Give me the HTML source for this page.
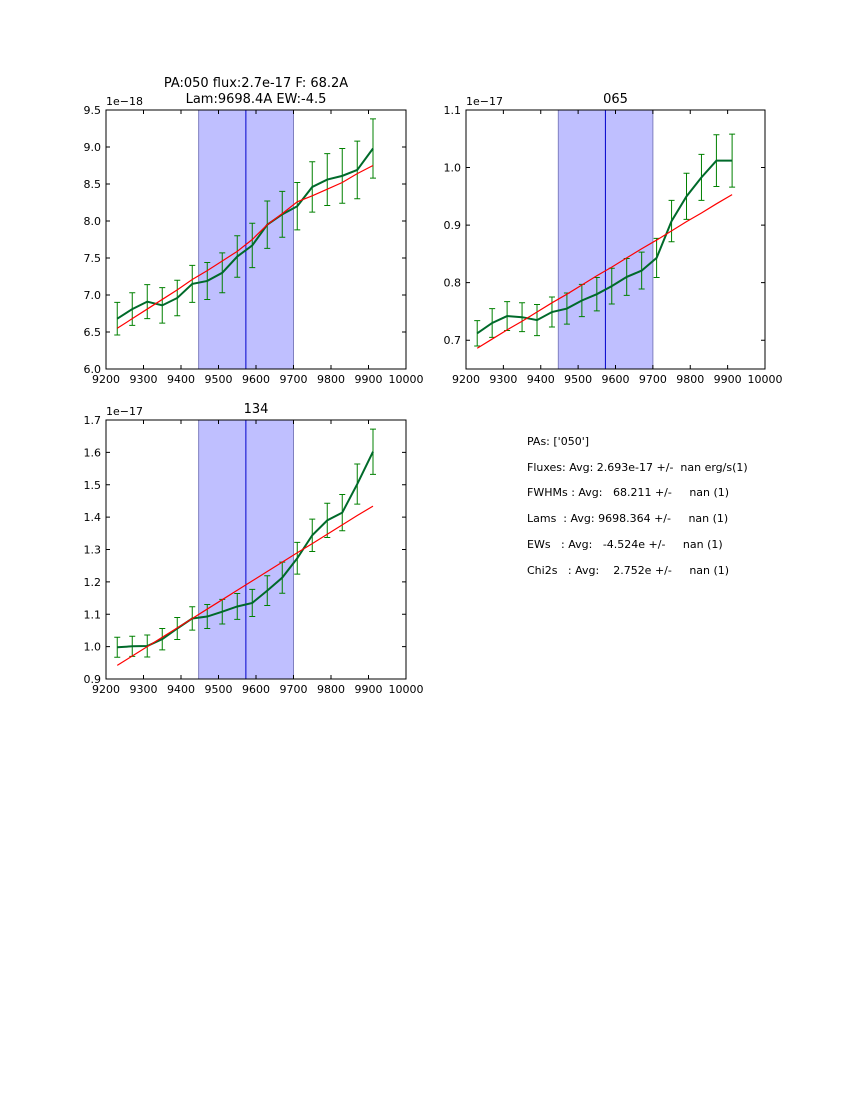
<!DOCTYPE html>
<html><head><meta charset="utf-8"><style>
html,body{margin:0;padding:0;background:#fff;}
body{width:850px;height:1100px;position:relative;overflow:hidden;font-family:"DejaVu Sans","Liberation Sans",sans-serif;}
#info{position:absolute;left:527px;top:429px;font-size:11px;line-height:25.7px;white-space:pre;color:#000;}
</style></head><body>
<svg id="fig" width="850" height="1100" style="position:absolute;left:0;top:0" font-family="DejaVu Sans, Liberation Sans, sans-serif"></svg>
<div id="info">PAs: ['050']
Fluxes: Avg: 2.693e-17 +/-  nan erg/s(1)
FWHMs : Avg:   68.211 +/-     nan (1)
Lams  : Avg: 9698.364 +/-     nan (1)
EWs   : Avg:   -4.524e +/-     nan (1)
Chi2s   : Avg:    2.752e +/-     nan (1)</div>
<script>
const waves = [9230,9270,9310,9350,9390,9430,9470,9510,9550,9590,9630,9670,9710,9750,9790,9830,9870,9912];
const xTicks = [9200,9300,9400,9500,9600,9700,9800,9900,10000];
const bandLo = 9447, bandHi = 9700, lineCenter = 9573;

const flux050 = [6.68,6.81,6.91,6.86,6.96,7.15,7.19,7.30,7.52,7.67,7.95,8.09,8.20,8.46,8.56,8.61,8.69,8.98];
const err050 = [0.22,0.22,0.23,0.24,0.24,0.25,0.25,0.27,0.28,0.30,0.32,0.31,0.32,0.34,0.35,0.37,0.39,0.40];
const model050 = [6.55,6.68,6.81,6.94,7.07,7.21,7.33,7.46,7.59,7.75,7.95,8.10,8.26,8.34,8.43,8.52,8.64,8.75];
const yTicks050 = [6.0,6.5,7.0,7.5,8.0,8.5,9.0,9.5];

const flux065 = [0.712,0.730,0.742,0.740,0.735,0.749,0.755,0.769,0.780,0.794,0.810,0.821,0.843,0.907,0.950,0.983,1.012,1.012];
const err065 = [0.022,0.025,0.025,0.025,0.027,0.026,0.027,0.028,0.029,0.031,0.032,0.032,0.034,0.036,0.040,0.040,0.045,0.046];
const model065 = [0.686,0.702,0.718,0.733,0.749,0.765,0.780,0.796,0.812,0.827,0.843,0.859,0.874,0.890,0.906,0.921,0.937,0.953];
const yTicks065 = [0.7,0.8,0.9,1.0,1.1];

const flux134 = [0.998,1.001,1.002,1.023,1.056,1.087,1.093,1.108,1.124,1.135,1.173,1.213,1.273,1.344,1.390,1.414,1.502,1.602];
const err134 = [0.031,0.031,0.034,0.033,0.034,0.036,0.037,0.038,0.040,0.042,0.046,0.048,0.049,0.050,0.053,0.056,0.062,0.070];
const model134 = [0.942,0.971,1.000,1.029,1.058,1.087,1.116,1.145,1.174,1.203,1.232,1.261,1.290,1.318,1.347,1.376,1.405,1.434];
const yTicks134 = [0.9,1.0,1.1,1.2,1.3,1.4,1.5,1.6,1.7];

const NS='http://www.w3.org/2000/svg';
const svg=document.getElementById('fig');
function mk(tag,attrs,parent){const e=document.createElementNS(NS,tag);for(const k in attrs)e.setAttribute(k,attrs[k]);(parent||svg).appendChild(e);return e;}

function panel(name,L,T,W,H,ymin,ymax,yTicks,dec,flux,err,model,titleLines,offset){
  const g=mk('g',{});
  
  
  const xs=v=>L+(v-9200)/(10000-9200)*W;
  const ys=v=>T+H-(v-ymin)/(ymax-ymin)*H;
  const band=mk('rect',{x:xs(bandLo),y:T,width:xs(bandHi)-xs(bandLo),height:H,fill:'#bfbfff',stroke:'#8080c0','stroke-width':1},g);
  
  
  const cl=mk('line',{x1:xs(lineCenter),x2:xs(lineCenter),y1:T,y2:T+H,stroke:'#0000cc','stroke-width':1},g);
  
  
  for(let i=0;i<waves.length;i++){
    const x=xs(waves[i]),y1=ys(flux[i]-err[i]),y2=ys(flux[i]+err[i]);
    const eb=mk('path',{d:`M${x},${y1}V${y2}M${x-3},${y1}H${x+3}M${x-3},${y2}H${x+3}`,stroke:'#008000','stroke-width':1,fill:'none'},g);
    
    
  }
  const dl=mk('polyline',{points:waves.map((w,i)=>xs(w)+','+ys(flux[i])).join(' '),fill:'none',stroke:'#006a2a','stroke-width':2},g);
  
  
  const ml=mk('polyline',{points:waves.map((w,i)=>xs(w)+','+ys(model[i])).join(' '),fill:'none',stroke:'#ff0000','stroke-width':1.2},g);
  
  
  const fr=mk('rect',{x:L,y:T,width:W,height:H,fill:'none',stroke:'#000','stroke-width':1},g);
  
  
  xTicks.forEach(t=>{
    const x=xs(t);
    mk('path',{d:`M${x},${T+H}v-4M${x},${T}v4`,stroke:'#000','stroke-width':1},g);
    const tx=mk('text',{x:x,y:T+H+14,'font-size':'11','text-anchor':'middle'},g);
    tx.textContent=t;
    
    
  });
  yTicks.forEach(t=>{
    const y=ys(t);
    mk('path',{d:`M${L},${y}h4M${L+W},${y}h-4`,stroke:'#000','stroke-width':1},g);
    const tx=mk('text',{x:L-5,y:y+4,'font-size':'11','text-anchor':'end'},g);
    tx.textContent=t.toFixed(1);
    
    
  });
  const off=mk('text',{x:L,y:T-5,'font-size':'11'},g);
  off.textContent=offset;
  
  
  titleLines.forEach((s,i)=>{
    const tt=mk('text',{x:L+W/2,y:T-7-(titleLines.length-1-i)*16,'font-size':'13','text-anchor':'middle'},g);
    tt.textContent=s;
    
    
  });
}
panel('pa050',106,110,300,259,6.0,9.5,yTicks050,1,flux050,err050,model050,['PA:050 flux:2.7e-17 F: 68.2A','Lam:9698.4A EW:-4.5'],'1e\u221218');
panel('pa065',466,110,299,259,0.65,1.1,yTicks065,1,flux065,err065,model065,['065'],'1e\u221217');
panel('pa134',106,420,300,259,0.9,1.7,yTicks134,1,flux134,err134,model134,['134'],'1e\u221217');
</script>
</body></html>
